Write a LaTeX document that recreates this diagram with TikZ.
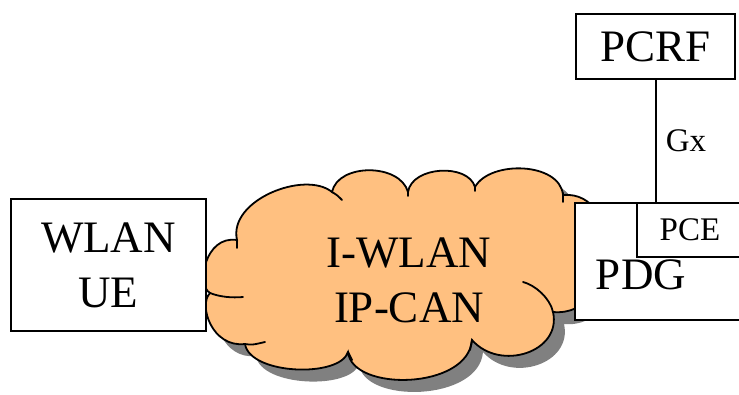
\documentclass[tikz,border=0pt]{standalone}
\usepackage{fontspec}
\setmainfont{Liberation Serif}
\usetikzlibrary{shadows}
\definecolor{cloudorange}{RGB}{255,192,128}
\definecolor{shadowgray}{RGB}{128,128,128}
\begin{document}
\begin{tikzpicture}[
        x=1pt, y=-1pt,
        box/.style={rectangle, draw, line width=2pt, fill=white, inner sep=0pt},
        big/.style={font=\fontsize{45}{55}\selectfont, align=center},
        small/.style={font=\fontsize{33}{38}\selectfont},
        net/.style={draw, line width=1.8pt, fill=cloudorange,
            drop shadow={shadow xshift=11pt, shadow yshift=-12pt, fill=shadowgray, opacity=1}},
        puff/.style={line width=1.8pt, line cap=round}
    ]
        \useasboundingbox (0,0) rectangle (739,394);
        \clip (0,0) rectangle (739,394);

        % Đám mây I-WLAN IP-CAN
        \path [net] (237,240)
            .. controls (228,200) and (305,170) .. (332,192)
            .. controls (338,163) and (400,163) .. (408,192)
            .. controls (412,166) and (468,163) .. (475,187)
            .. controls (490,160) and (560,162) .. (563,195)
            .. controls (625,190) and (620,318) .. (553,312)
            .. controls (562,352) and (500,372) .. (472,340)
            .. controls (468,390) and (352,392) .. (348,352)
            .. controls (340,378) and (250,375) .. (245,344)
            .. controls (212,348) and (198,305) .. (210,293)
            .. controls (196,285) and (205,235) .. cycle;
        % Các nét cong bên trong
        \draw [puff] (237,240) -- (237,248);
        \draw [puff] (210,293) .. controls (220,297) and (232,298) .. (243,297);
        \draw [puff] (245,344) .. controls (252,345) .. (265,342);
        \draw [puff] (332,192) .. controls (337,195) .. (342,200);
        \draw [puff] (408,192) -- (408,196);
        \draw [puff] (475,187) -- (475,191);
        \draw [puff] (563,193) -- (563,202);
        \draw [puff] (523,282) .. controls (535,285) and (550,298) .. (553,312);
        \draw [puff] (472,340) -- (470,350);
        \draw [puff] (348,352) -- (352,360);
        \node [big] (ipcantext) at (409,280) {I-WLAN\\IP-CAN};

        % Các hộp
        \node [box, big, minimum width=195, minimum height=132] (ue) at (108.5,265) {WLAN\\UE};
        \node [box, big, minimum width=159, minimum height=65] (pcrf) at (655.5,46.5) {PCRF};
        \node [box, minimum width=180, minimum height=117, anchor=north west] (pdg) at (574,202) {};
        \node [big] (pdgtext) at (641,275) {PDG};
        \node [box, small, minimum width=106, minimum height=54, anchor=north west] (pce) at (636,202) {PCE};

        % Giao diện Gx
        \draw [line width=2pt] (pcrf.south) -- (pcrf.south |- pdg.north)
            node [small, midway, right=6pt] (gx) {Gx};
    \end{tikzpicture}
\end{document}
